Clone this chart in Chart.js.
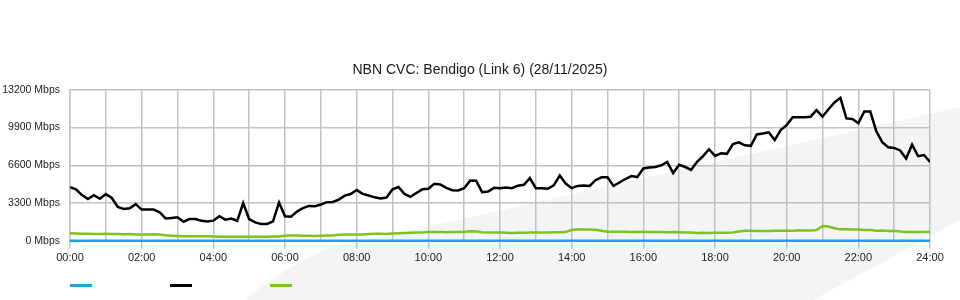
<!DOCTYPE html>
<html>
<head>
<meta charset="utf-8">
<script src="https://cdn.jsdelivr.net/npm/chart.js@4/dist/chart.umd.min.js"></script>
<style>
    html, body { margin: 0; padding: 0; background: #fff; }
    #wrap { width: 960px; height: 300px; position: relative; }
</style>
</head>
<body>
<div id="wrap"><canvas id="cvcChart"></canvas></div>
<script>
// Achsenbeschriftung
const hourLabels = ['00:00', '02:00', '04:00', '06:00', '08:00', '10:00', '12:00',
                    '14:00', '16:00', '18:00', '20:00', '22:00', '24:00'];
const yTicks = [0, 3300, 6600, 9900, 13200];
const stepMinutes = 10;

// Messwerte in Mbps, alle 10 Minuten (00:00 .. 24:00)
const trafficMbps = [
    4690, 4500, 4000, 3650, 3980, 3670, 4080, 3740, 2950, 2790, 2850, 3200,
    2730, 2730, 2730, 2500, 1960, 2000, 2050, 1670, 1900, 1900, 1750, 1680,
    1760, 2150, 1850, 1950, 1750, 3300, 1900, 1610, 1470, 1470, 1700, 3350,
    2150, 2100, 2550, 2850, 3050, 3020, 3170, 3380, 3390, 3600, 3950, 4090,
    4450, 4100, 3960, 3800, 3700, 3780, 4500, 4700, 4100, 3850, 4180, 4500,
    4550, 4990, 4920, 4620, 4420, 4400, 4600, 5260, 5250, 4250, 4300, 4630,
    4600, 4650, 4600, 4820, 4900, 5480, 4600, 4600, 4550, 4850, 5700, 5000,
    4600, 4800, 4840, 4800, 5300, 5550, 5550, 4800, 5100, 5400, 5660, 5570,
    6330, 6400, 6450, 6600, 6900, 5920, 6650, 6450, 6200, 6900, 7400, 8000,
    7420, 7650, 7600, 8450, 8600, 8350, 8300, 9300, 9380, 9480, 8800, 9680,
    10120, 10800, 10800, 10800, 10850, 11430, 10850, 11500, 12100, 12500, 10700, 10650,
    10280, 11300, 11300, 9600, 8620, 8180, 8120, 7900, 7190, 8400, 7400, 7500,
    6890
];
const uploadMbps = [
    670, 640, 620, 620, 600, 600, 610, 600, 590, 570, 590, 560,
    560, 540, 570, 550, 480, 450, 420, 400, 400, 390, 390, 400,
    380, 360, 360, 360, 360, 360, 360, 360, 360, 360, 380, 380,
    440, 470, 460, 440, 440, 420, 450, 470, 470, 520, 540, 560,
    560, 560, 600, 620, 620, 600, 640, 660, 680, 700, 720, 720,
    780, 780, 760, 740, 760, 770, 780, 830, 810, 750, 720, 720,
    720, 700, 680, 700, 710, 720, 720, 720, 720, 740, 750, 760,
    950, 1010, 990, 990, 960, 880, 800, 790, 800, 800, 780, 790,
    770, 780, 760, 770, 750, 760, 740, 720, 720, 680, 700, 680,
    700, 700, 700, 730, 820, 880, 870, 860, 860, 860, 880, 880,
    880, 880, 920, 900, 890, 950, 1300, 1250, 1100, 1000, 1000, 980,
    980, 950, 940, 880, 900, 860, 880, 820, 780, 760, 760, 760,
    760
];
const baseHours = [0, 24];
const baseMbps = [0, 0];

const blue = '#19a3e3';
const black = '#000000';
const green = '#7fc31f';
const gridColor = '#c2c2c2';
const fontFamily = "'Liberation Sans', Arial, sans-serif";

// Index -> Stunde
function toPoints(values) {
    return values.map((v, i) => ({ x: i * stepMinutes / 60, y: v }));
}

// Hintergrund mit hellgrauem Band
const backdrop = {
    id: 'backdrop',
    beforeDraw(chart) {
        const ctx = chart.ctx;
        const w = chart.width, h = chart.height;
        ctx.save();
        ctx.fillStyle = '#ffffff';
        ctx.fillRect(0, 0, w, h);
        ctx.fillStyle = '#f3f4f6';
        ctx.beginPath();
        ctx.moveTo(w * 0.255, h);
        ctx.quadraticCurveTo(w * 0.33, h * 0.81, w * 0.375, h * 0.807);
        ctx.lineTo(w, h * 0.357);
        ctx.lineTo(w, h * 0.733);
        ctx.lineTo(w * 0.847, h);
        ctx.closePath();
        ctx.fill();
        ctx.restore();
    }
};

// Legende nur mit Linien, ohne Text
const lineLegend = {
    id: 'lineLegend',
    afterDraw(chart) {
        const ctx = chart.ctx;
        const left = chart.chartArea.left;
        ctx.save();
        chart.data.datasets.forEach((ds, i) => {
            ctx.fillStyle = ds.borderColor;
            ctx.fillRect(left + i * 100, chart.height - 16, 22, 3);
        });
        ctx.restore();
    }
};

function renderChart() {
    new Chart(document.getElementById('cvcChart').getContext('2d'), {
        type: 'line',
        data: {
            datasets: [
                {
                    label: '',
                    data: baseHours.map((h, i) => ({ x: h, y: baseMbps[i] })),
                    borderColor: blue, backgroundColor: blue, borderWidth: 2.5,
                    pointRadius: 0, fill: false, clip: 4
                },
                {
                    label: '',
                    data: toPoints(trafficMbps),
                    borderColor: black, backgroundColor: black, borderWidth: 2.5,
                    pointRadius: 0, fill: false, tension: 0
                },
                {
                    label: '',
                    data: toPoints(uploadMbps),
                    borderColor: green, backgroundColor: green, borderWidth: 2.5,
                    pointRadius: 0, fill: false, tension: 0
                }
            ]
        },
        options: {
            responsive: true,
            maintainAspectRatio: false,
            animation: false,
            layout: { padding: { top: 62, right: 0, bottom: 32, left: 0 } },
            plugins: {
                legend: { display: false },
                tooltip: { enabled: false },
                title: {
                    display: true,
                    text: 'NBN CVC: Bendigo (Link 6) (28/11/2025)',
                    color: '#1a1a1a',
                    font: { family: fontFamily, size: 14, weight: 'normal' },
                    padding: { top: 0, bottom: 11 }
                }
            },
            scales: {
                x: {
                    type: 'linear',
                    min: 0, max: 24,
                    ticks: {
                        stepSize: 1,
                        autoSkip: false,
                        maxRotation: 0,
                        padding: 3,
                        color: '#222',
                        font: { family: fontFamily, size: 11 },
                        callback: v => (v % 2 === 0 ? hourLabels[v / 2] : '')
                    },
                    grid: {
                        color: gridColor,
                        lineWidth: 1.5,
                        tickLength: 8,
                        tickColor: c => (c.tick && c.tick.value % 2 === 0 ? gridColor : 'rgba(0,0,0,0)')
                    },
                    border: { color: gridColor, width: 1.5 }
                },
                y: {
                    min: 0, max: 13200,
                    afterBuildTicks: s => { s.ticks = yTicks.map(v => ({ value: v })); },
                    afterFit: s => { s.width = 70; },
                    ticks: {
                        padding: 10,
                        color: '#222',
                        font: { family: fontFamily, size: 10.5 },
                        callback: v => v + ' Mbps'
                    },
                    grid: { color: gridColor, lineWidth: 1.5, drawTicks: false },
                    border: { color: gridColor, width: 1.5 }
                },
                // leerer Platzhalter rechts, damit der Titel mittig über dem Canvas steht
                yRight: {
                    position: 'right',
                    afterFit: s => { s.width = 30; },
                    ticks: { display: false },
                    grid: { display: false },
                    border: { display: false }
                }
            }
        },
        plugins: [backdrop, lineLegend]
    });
}

window.addEventListener('DOMContentLoaded', renderChart);
</script>
</body>
</html>
